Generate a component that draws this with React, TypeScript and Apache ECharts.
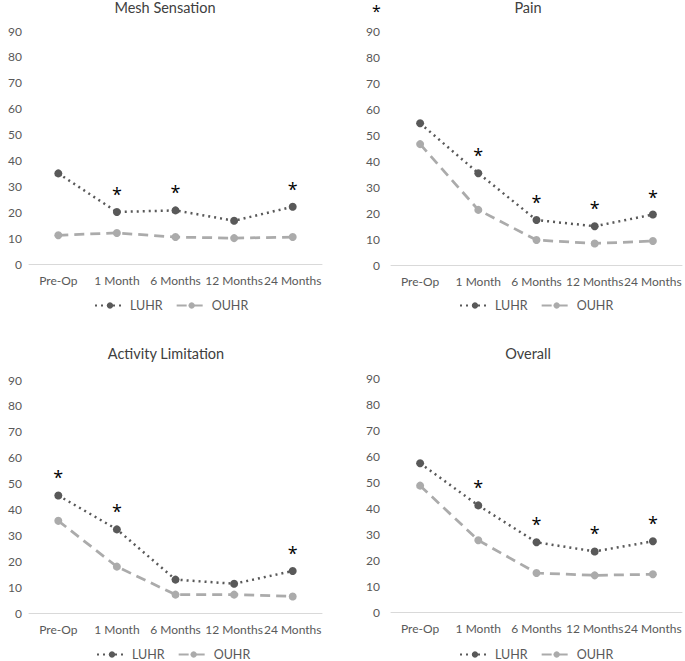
import React, { useEffect, useRef } from "react";
import * as echarts from "echarts";

const categories = ["Pre-Op", "1 Month", "6 Months", "12 Months", "24 Months"];
const titles = ["Mesh Sensation", "Pain", "Activity Limitation", "Overall"];

const meshLUHR = [35.0, 20.1, 20.7, 16.7, 22.1];
const meshOUHR = [11.1, 12.0, 10.4, 10.0, 10.4];
const meshStars = [false, true, true, false, true];

const painLUHR = [54.5, 35.3, 17.3, 14.9, 19.4];
const painOUHR = [46.5, 21.2, 9.6, 8.3, 9.2];
const painStars = [false, true, true, true, true];

const activityLUHR = [45.4, 32.3, 12.9, 11.3, 16.2];
const activityOUHR = [35.6, 17.9, 7.1, 7.1, 6.4];
const activityStars = [true, true, false, false, true];

const overallLUHR = [57.2, 41.0, 26.8, 23.3, 27.2];
const overallOUHR = [48.6, 27.6, 15.0, 14.1, 14.5];
const overallStars = [false, true, true, true, true];

const yTicks = { min: 0, max: 90, interval: 10 };

const FONT = "Lato";
const STAR_FONT = "Open Sans";
const TEXT = "#595959";
const DARK = "#595959";
const LIGHT = "#ABABAB";

const panels = [
  { luhr: meshLUHR, ouhr: meshOUHR, stars: meshStars },
  { luhr: painLUHR, ouhr: painOUHR, stars: painStars },
  { luhr: activityLUHR, ouhr: activityOUHR, stars: activityStars },
  { luhr: overallLUHR, ouhr: overallOUHR, stars: overallStars },
];

// layout per panel (positions only)
const layout = [
  { left: 29, width: 293, top: 31, height: 233, ymargin: 7, titleX: 165, titleY: 0, legendLeft: 94, legendTop: 299 },
  { left: 391, width: 291, top: 31, height: 234, ymargin: 11, titleX: 528, titleY: 0, legendLeft: 459, legendTop: 299 },
  { left: 29, width: 293, top: 380, height: 233, ymargin: 7, titleX: 166, titleY: 346, legendLeft: 96, legendTop: 648 },
  { left: 391, width: 291, top: 378, height: 234, ymargin: 11, titleX: 528, titleY: 346, legendLeft: 459, legendTop: 648 },
];

export default function App() {
  const ref = useRef<HTMLDivElement>(null);
  useEffect(() => {
    if (!ref.current) return;
    const chart = echarts.init(ref.current, null, { renderer: "svg" });
    const grid: any[] = [];
    const xAxis: any[] = [];
    const yAxis: any[] = [];
    const series: any[] = [];
    const title: any[] = [];
    const legend: any[] = [];
    panels.forEach((p, i) => {
      const L = layout[i];
      grid.push({ left: L.left, top: L.top, width: L.width, height: L.height });
      xAxis.push({
        type: "category",
        gridIndex: i,
        data: categories,
        boundaryGap: true,
        axisLine: { lineStyle: { color: "#D9D9D9", width: 1 } },
        axisTick: { show: false },
        axisLabel: { color: TEXT, fontFamily: FONT, fontSize: 12, margin: 10, interval: 0 },
      });
      yAxis.push({
        type: "value",
        gridIndex: i,
        min: yTicks.min,
        max: yTicks.max,
        interval: yTicks.interval,
        axisLine: { show: false },
        axisTick: { show: false },
        splitLine: { show: false },
        axisLabel: { color: TEXT, fontFamily: FONT, fontSize: 12, margin: L.ymargin },
      });
      series.push({
        name: "LUHR",
        type: "line",
        xAxisIndex: i,
        yAxisIndex: i,
        data: p.luhr,
        symbol: "circle",
        symbolSize: 8,
        color: DARK,
        itemStyle: { color: DARK },
        lineStyle: { color: DARK, width: 2.5, type: [2, 4] },
        label: {
          show: true,
          position: "top",
          distance: 5,
          color: "#000",
          fontFamily: STAR_FONT,
          fontSize: 18,
          formatter: (d: any) => (p.stars[d.dataIndex] ? "*" : ""),
        },
      });
      series.push({
        name: "OUHR",
        type: "line",
        xAxisIndex: i,
        yAxisIndex: i,
        data: p.ouhr,
        symbol: "circle",
        symbolSize: 8,
        color: LIGHT,
        itemStyle: { color: LIGHT },
        lineStyle: { color: LIGHT, width: 2.75, type: [10, 6] },
      });
      title.push({
        text: titles[i],
        left: L.titleX,
        top: L.titleY,
        padding: 0,
        textAlign: "center",
        textStyle: { color: "#404040", fontFamily: FONT, fontSize: 14.5, fontWeight: "normal" },
      });
      legend.push({
        data: ["LUHR", "OUHR"],
        left: L.legendLeft,
        top: L.legendTop,
        padding: 0,
        orient: "horizontal",
        itemWidth: 30,
        itemHeight: 8,
        itemGap: 13,
        textStyle: { color: TEXT, fontFamily: FONT, fontSize: 12.5 },
        selectedMode: false,
      });
    });
    chart.setOption({
      animation: false,
      backgroundColor: "#fff",
      title,
      legend,
      grid,
      xAxis,
      yAxis,
      series,
      graphic: [
        {
          type: "text",
          left: 372,
          top: 3,
          style: { text: "*", fill: "#000", font: `16px "${STAR_FONT}"` },
        },
      ],
    });
    return () => chart.dispose();
  }, []);
  return (
    <div
      ref={ref}
      style={{ position: "fixed", left: 0, top: 0, width: 685, height: 661, background: "#fff" }}
    />
  );
}
